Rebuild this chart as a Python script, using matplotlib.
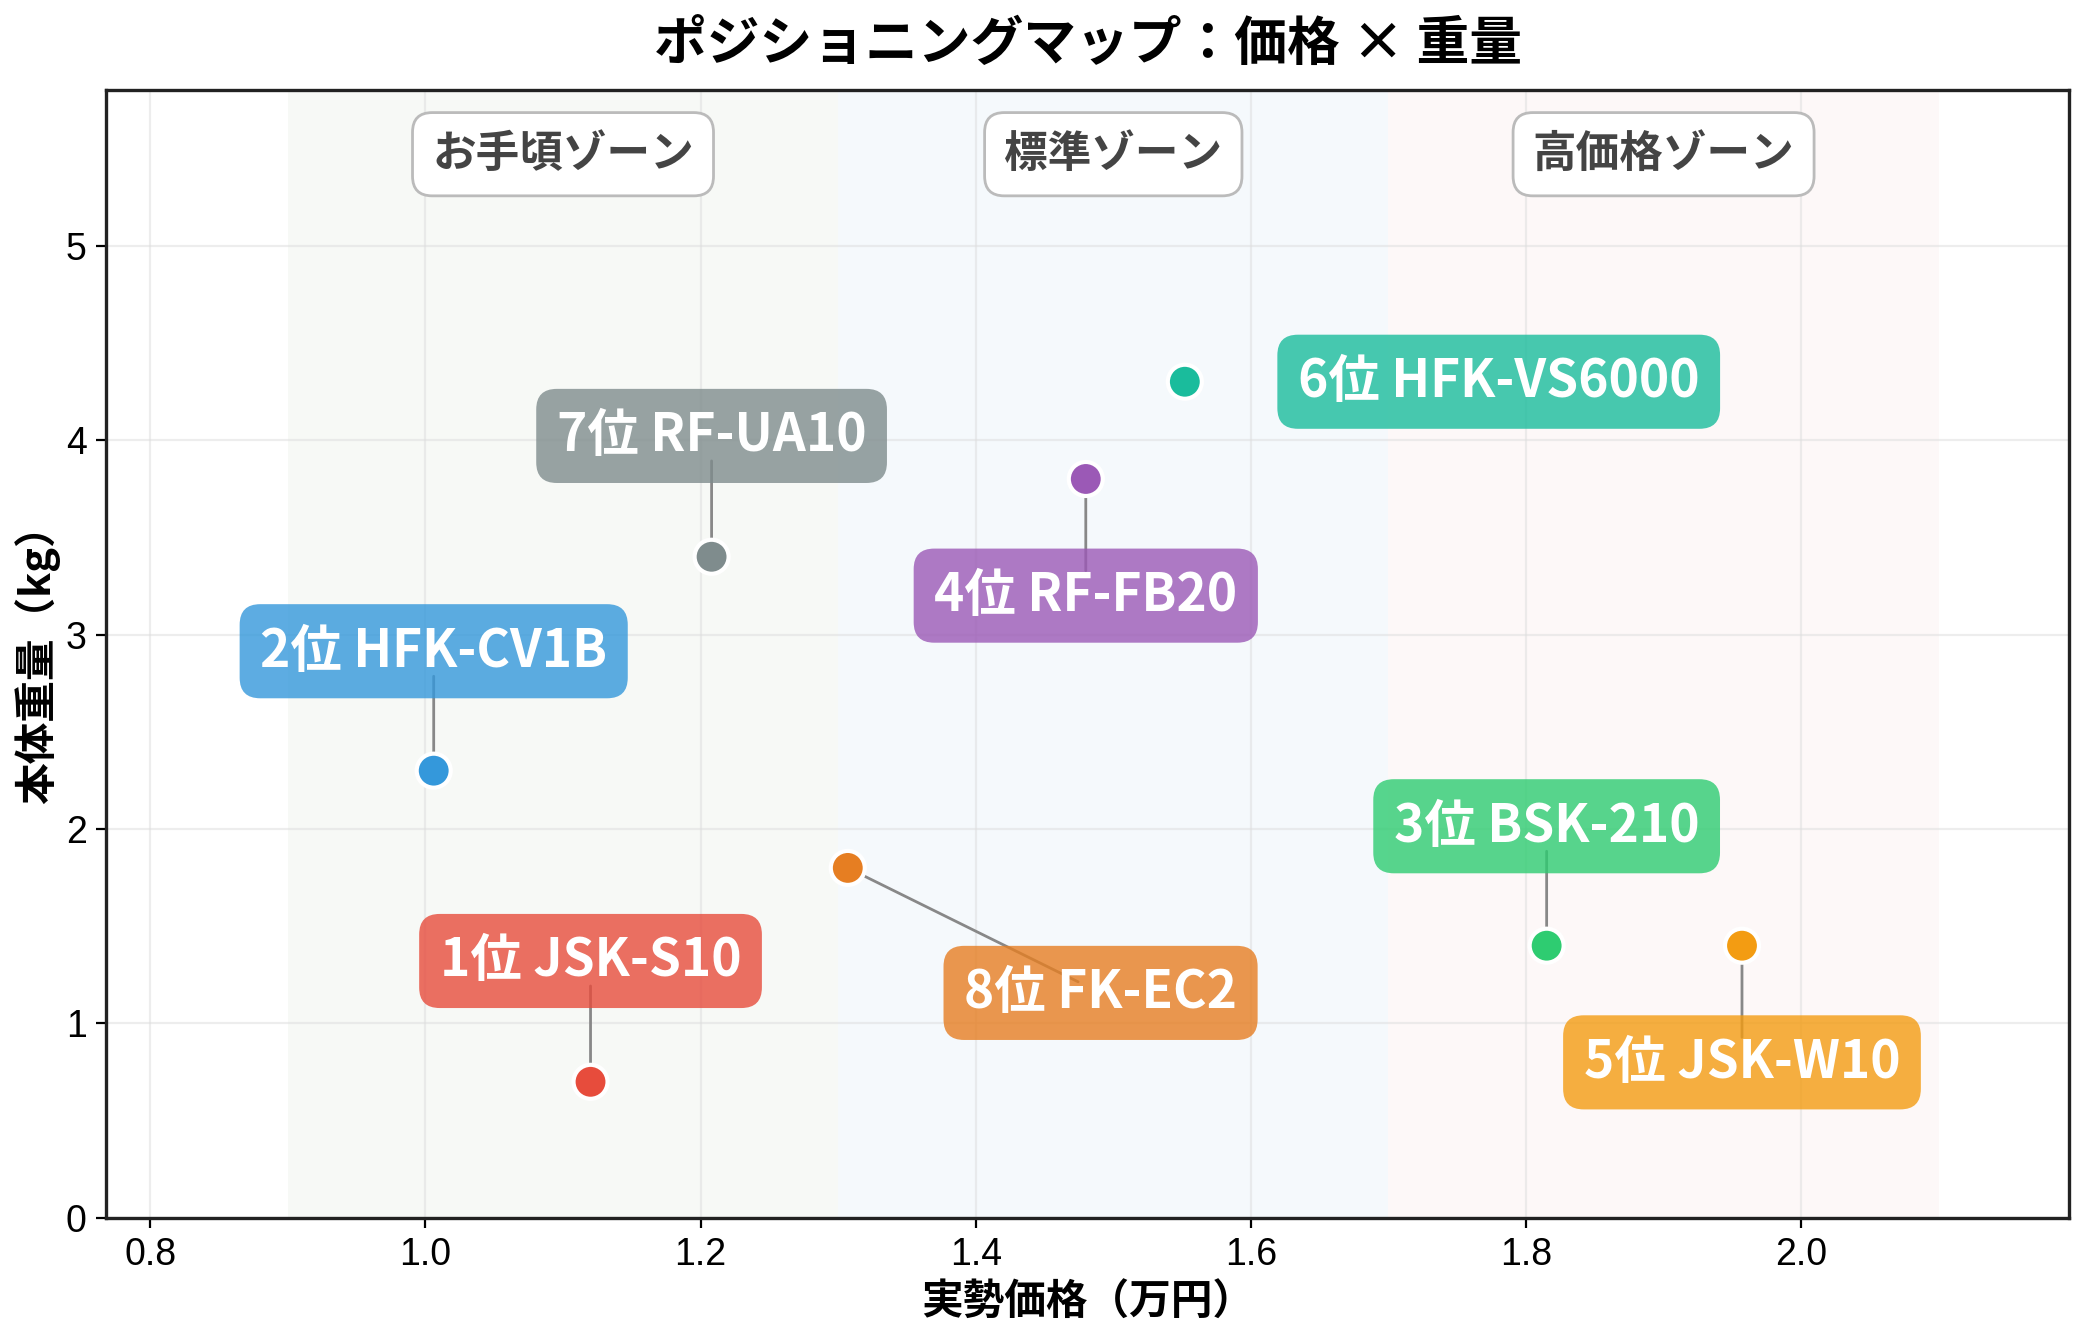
import matplotlib
matplotlib.use("Agg")
import matplotlib.pyplot as plt

plt.rcParams['font.family'] = ['Noto Sans CJK JP', 'DejaVu Sans']

# data
names = ['1位 JSK-S10', '2位 HFK-CV1B', '3位 BSK-210', '4位 RF-FB20',
         '5位 JSK-W10', '6位 HFK-VS6000', '7位 RF-UA10', '8位 FK-EC2']
price = [1.12, 1.006, 1.815, 1.48, 1.957, 1.552, 1.208, 1.307]   # 万円
weight = [0.7, 2.3, 1.4, 3.8, 1.4, 4.3, 3.4, 1.8]                # kg
colors = ['#e74c3c', '#3498db', '#2ecc71', '#9b59b6',
          '#f39c12', '#1abc9c', '#7f8c8d', '#e67e22']
offsets = [(0, 43.5), (0, 43), (0, 43), (0, -42),
           (0, -42), (113, 0), (0, 43.5), (91, -45)]
show_line = [True, True, True, True, True, False, True, True]

zone_names = ['お手頃ゾーン', '標準ゾーン', '高価格ゾーン']
zone_edges = [(0.9, 1.3), (1.3, 1.7), (1.7, 2.1)]
zone_colors = ['#f7f9f6', '#f5f9fc', '#fdf8f8']

fig, ax = plt.subplots(figsize=(10.42, 6.67), dpi=200)
fig.subplots_adjust(left=0.051, right=0.993, bottom=0.087, top=0.9325)

for (x0, x1), c, zn in zip(zone_edges, zone_colors, zone_names):
    ax.axvspan(x0, x1, color=c, lw=0, zorder=0)
    ax.text((x0 + x1) / 2, 5.47, zn, ha='center', va='center', fontsize=15.7,
            fontweight='bold', color='#444444', zorder=3,
            bbox=dict(boxstyle='round,pad=0.45', fc='white', ec='#bbbbbb', lw=1))

ax.scatter(price, weight, s=150, c=colors, edgecolors='white', linewidths=1.5, zorder=5)

for n, x, y, c, off, sl in zip(names, price, weight, colors, offsets, show_line):
    arrow = dict(arrowstyle='-', color='#888888', lw=1, patchA=None, shrinkA=9) if sl else None
    ax.annotate(n, (x, y), xytext=off, textcoords='offset points',
                ha='center', va='center', fontsize=18.5, fontweight='bold', color='white',
                bbox=dict(boxstyle='round,pad=0.4', fc=c, ec='none', alpha=0.8),
                arrowprops=arrow, zorder=4)

ax.set_xlim(0.768, 2.195)
ax.set_ylim(0, 5.8)
ax.set_xticks([0.8, 1.0, 1.2, 1.4, 1.6, 1.8, 2.0])
ax.set_yticks([0, 1, 2, 3, 4, 5])
ax.tick_params(labelsize=13.5)
for lab in ax.get_xticklabels() + ax.get_yticklabels():
    lab.set_family(['Liberation Sans', 'DejaVu Sans'])
ax.grid(True, color='#dddddd', alpha=0.5, lw=0.8, zorder=1)
ax.set_axisbelow(True)
for sp in ax.spines.values():
    sp.set_color('#222222')
    sp.set_linewidth(1.2)

ax.set_xlabel('実勢価格（万円）', fontsize=15, fontweight='bold', labelpad=3)
ax.set_ylabel('本体重量（kg）', fontsize=15, fontweight='bold', labelpad=2)
ax.set_title('ポジショニングマップ：価格 × 重量', fontsize=19, fontweight='bold', pad=11)

fig.savefig('out.png', dpi=200)
